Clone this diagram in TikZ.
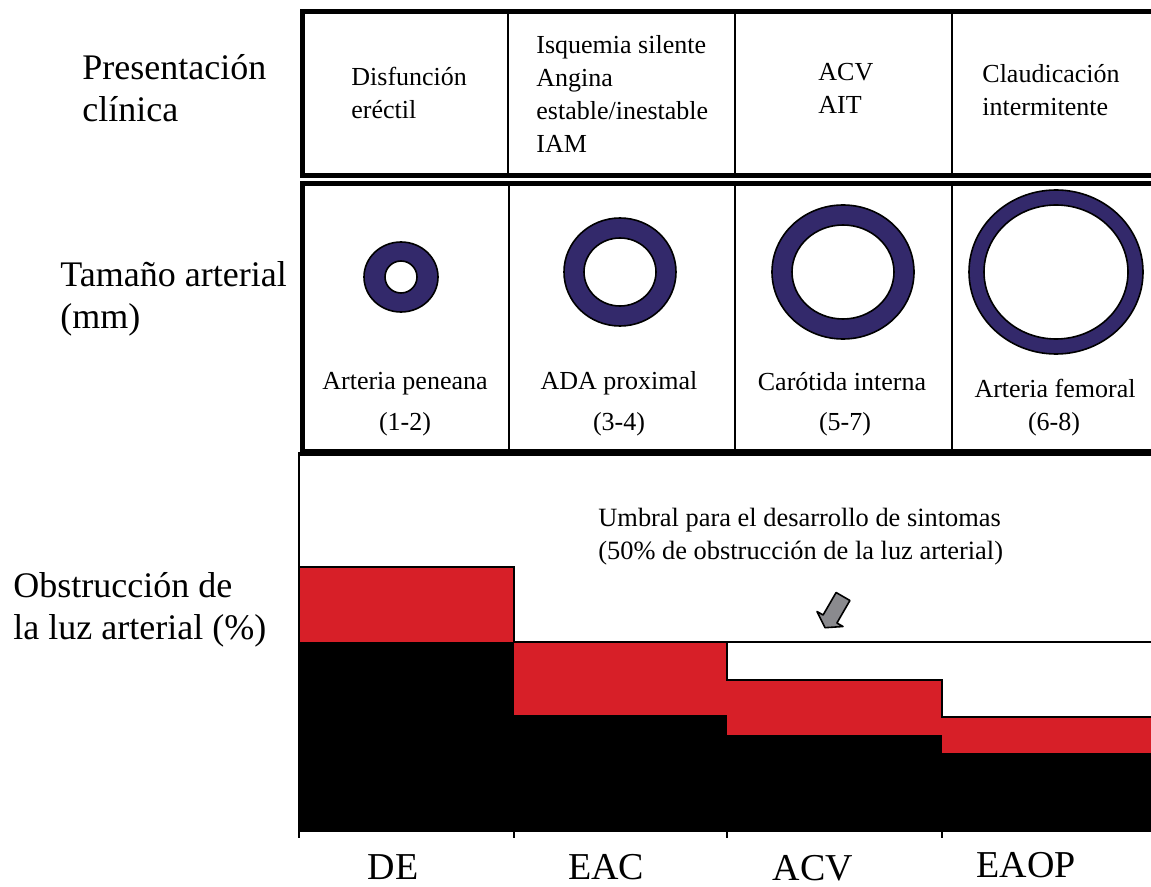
\documentclass[tikz,border=0pt]{standalone}
\usepackage{fontspec}
\setmainfont{Liberation Serif}
\definecolor{arteria}{RGB}{51,41,107}
\definecolor{rojo}{RGB}{215,31,40}
\definecolor{flecha}{RGB}{138,138,142}
\begin{document}
\begin{tikzpicture}[x=0.5pt,y=-0.5pt,
	marco/.style={line width=2.5pt},
	divisor/.style={line width=1pt},
	celda/.style={align=left,inner sep=0pt,font=\fontsize{13}{16.5}\selectfont},
	rotulo/.style={align=left,inner sep=0pt,font=\fontsize{18}{21}\selectfont},
	grupo/.style={inner sep=0pt,font=\fontsize{19}{22}\selectfont},
	anillo/.style={fill=arteria,draw=black,line width=0.8pt,even odd rule},
	borde/.style={line width=0.8pt}]
	\useasboundingbox (0,0) rectangle (1151,887);
	\clip (0,0) rectangle (1151,887);
	% rotulos de la izquierda
	\node [rotulo,anchor=west] (presentacion) at (82,88) {Presentación\\clínica};
	\node [rotulo,anchor=west] (tamano) at (60,299) {Tamaño arterial\\(mm)};
	\node [rotulo,anchor=west] (obstruccion) at (13,610) {Obstrucción de\\la luz arterial (\%)};
	% tabla de presentacion clinica
	\draw [marco] (302,12) rectangle (1190,175.5);
	\foreach \c in {508,735,952} \draw [divisor] (\c,12) -- (\c,175.5);
	\node [celda,anchor=west] (dis) at (351,93) {Disfunción\\eréctil};
	\node [celda,anchor=west] (isq) at (536,94) {Isquemia silente\\Angina\\estable/inestable\\IAM};
	\node [celda,anchor=west] (acv) at (818,88) {ACV\\AIT};
	\node [celda,anchor=west] (clau) at (982,90) {Claudicación\\intermitente};
	% tabla de tamano arterial
	\draw [marco] (302,183.5) rectangle (1190,452);
	\draw [line width=3.5pt] (300,453) -- (1190,453);
	\foreach \c in {508.5,734.5,952} \draw [divisor] (\c,183.5) -- (\c,452);
	\coordinate (c1) at (401,277);
	\coordinate (c2) at (620,272);
	\coordinate (c3) at (843,272);
	\coordinate (c4) at (1056,272);
	\filldraw [anillo] (c1) ellipse (37 and 35) (c1) ellipse (16 and 16);
	\filldraw [anillo] (c2) ellipse (56 and 54) (c2) ellipse (36 and 34);
	\filldraw [anillo] (c3) ellipse (71 and 67) (c3) ellipse (51 and 47);
	\filldraw [anillo] (c4) ellipse (87 and 82) (c4) ellipse (72 and 67);
	\node [celda,anchor=base] (peneana) at (405,390) {Arteria peneana};
	\node [celda,anchor=base] (peneanamm) at (405,430) {(1-2)};
	\node [celda,anchor=base] (ada) at (619,390) {ADA proximal};
	\node [celda,anchor=base] (adamm) at (619,430) {(3-4)};
	\node [celda,anchor=base] (carotida) at (842,390.5) {Carótida interna};
	\node [celda,anchor=base] (carotidamm) at (845,430) {(5-7)};
	\node [celda,anchor=base] (femoral) at (1055,398) {Arteria femoral};
	\node [celda,anchor=base] (femoralmm) at (1054,430) {(6-8)};
	% barras de obstruccion
	\fill (299,642) rectangle (514,831);
	\fill [rojo] (299,567) rectangle (514,642);
	\fill (514,715) rectangle (727,831);
	\fill [rojo] (514,642) rectangle (727,715);
	\fill (727,735) rectangle (942,831);
	\fill [rojo] (727,680) rectangle (942,735);
	\fill (942,753) rectangle (1190,831);
	\fill [rojo] (942,717) rectangle (1190,753);
	\draw [borde] (299,567) -- (514,567) -- (514,642) -- (1190,642);
	\draw [borde] (727,642) -- (727,680) -- (942,680) -- (942,717) -- (1190,717);
	\draw [borde] (299,452) -- (299,838);
	\draw [borde] (299,831) -- (1190,831);
	\foreach \t in {514,727,942} \draw [borde] (\t,831) -- (\t,838);
	\node [celda,anchor=west,font=\fontsize{13.2}{16.5}\selectfont] (umbral) at (598,537) {Umbral para el desarrollo de sintomas\\(50\% de obstrucción de la luz arterial)};
	\filldraw [fill=flecha,draw=black,line width=0.8pt,line join=round] (825,627.7) -- (843,626.5) -- (836.9,623) -- (849.9,600.5) -- (836.1,592.5) -- (823.1,615) -- (817,611.5) -- cycle;
	% grupos
	\node [grupo,anchor=base] (de) at (393,879) {DE};
	\node [grupo,anchor=base] (eac) at (606,879) {EAC};
	\node [grupo,anchor=base] (acvb) at (813,880) {ACV};
	\node [grupo,anchor=base] (eaop) at (1026,877) {EAOP};
\end{tikzpicture}
\end{document}
